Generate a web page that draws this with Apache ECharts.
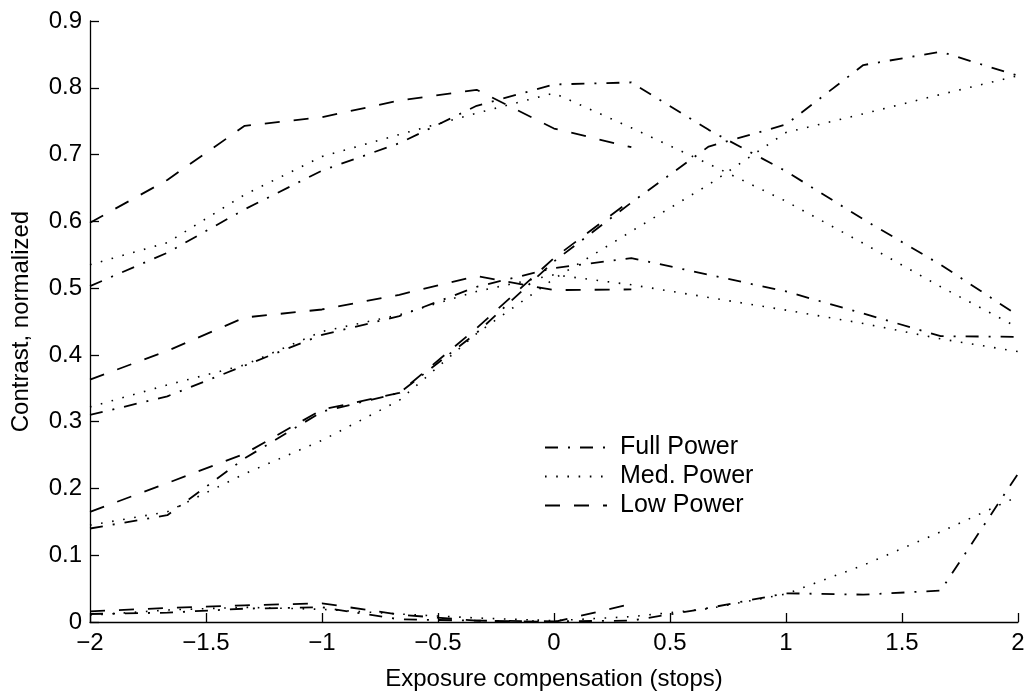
<!DOCTYPE html>
<html>
<head>
<meta charset="utf-8">
<script src="https://cdn.jsdelivr.net/npm/echarts@6/dist/echarts.min.js"></script>
<style>
html, body { margin: 0; padding: 0; background: #fff; }
#chart { width: 1031px; height: 696px; }
</style>
</head>
<body>
<div id="chart"></div>
<script>
// Exposure steps (one-third stop apart)
const exposure = [-2, -1.6667, -1.3333, -1, -0.6667, -0.3333, 0, 0.3333, 0.6667, 1, 1.3333, 1.6667, 2];

// Tick labels
const xTickLabels = ['\u22122', '\u22121.5', '\u22121', '\u22120.5', '0', '0.5', '1', '1.5', '2'];
const yTickLabels = ['0', '0.1', '0.2', '0.3', '0.4', '0.5', '0.6', '0.7', '0.8', '0.9'];

// Scene A
const fullA = [0.503, 0.553, 0.618, 0.676, 0.717, 0.773, 0.805, 0.808, 0.737, 0.675, 0.603, 0.535, 0.459];
const medA  = [0.535, 0.568, 0.640, 0.697, 0.730, 0.762, 0.792, 0.740, 0.686, 0.630, 0.567, 0.502, 0.441];
const lowA  = [0.598, 0.662, 0.743, 0.756, 0.781, 0.797, 0.739, 0.711];

// Scene B
const fullB = [0.310, 0.338, 0.384, 0.430, 0.458, 0.502, 0.530, 0.545, 0.520, 0.495, 0.462, 0.428, 0.427];
const medB  = [0.322, 0.355, 0.385, 0.435, 0.460, 0.495, 0.520, 0.505, 0.486, 0.467, 0.447, 0.424, 0.405];
const lowB  = [0.363, 0.406, 0.456, 0.468, 0.490, 0.518, 0.497, 0.498];

// Scene C
const fullC = [0.140, 0.160, 0.245, 0.315, 0.343, 0.433, 0.540, 0.628, 0.712, 0.745, 0.834, 0.854, 0.818];
const medC  = [0.145, 0.165, 0.222, 0.272, 0.332, 0.432, 0.514, 0.585, 0.655, 0.733, 0.761, 0.790, 0.818];
const lowC  = [0.165, 0.208, 0.252, 0.318, 0.343, 0.440, 0.545, 0.632];

// Scene D
const fullD = [0.012, 0.014, 0.020, 0.022, 0.004, 0.002, 0.001, 0.002, 0.021, 0.043, 0.041, 0.047, 0.222];
const medD  = [0.010, 0.018, 0.022, 0.019, 0.012, 0.006, 0.002, 0.008, 0.020, 0.042, 0.085, 0.135, 0.188];
const lowD  = [0.016, 0.021, 0.025, 0.028, 0.011, 0.002, 0.000, 0.027];

const FONT = '"Liberation Sans", Arial, Helvetica, sans-serif';

const powerStyles = {
  'Full Power': { type: [13, 10, 2, 10], width: 1.8 },
  'Med. Power': { type: [1.6, 9.6], width: 1.6 },
  'Low Power':  { type: [15, 14], width: 1.8 }
};

const groups = [
  ['Full Power', fullA], ['Med. Power', medA], ['Low Power', lowA],
  ['Full Power', fullB], ['Med. Power', medB], ['Low Power', lowB],
  ['Full Power', fullC], ['Med. Power', medC], ['Low Power', lowC],
  ['Full Power', fullD], ['Med. Power', medD], ['Low Power', lowD]
];

const series = groups.map(([name, values]) => ({
  name: name,
  type: 'line',
  data: values.map((v, i) => [exposure[i], v]),
  symbol: 'none',
  showSymbol: false,
  lineStyle: {
    color: '#000',
    width: powerStyles[name].width,
    type: powerStyles[name].type,
    cap: 'butt'
  },
  itemStyle: { color: '#000' },
  animation: false,
  silent: true
}));

const chart = echarts.init(document.getElementById('chart'), null, { renderer: 'canvas' });
chart.setOption({
  backgroundColor: '#fff',
  animation: false,
  grid: { left: 90, right: 13, top: 21, bottom: 72, containLabel: false },
  xAxis: {
    type: 'value',
    min: -2, max: 2, interval: 0.5,
    axisLine: { show: true, onZero: false, lineStyle: { color: '#000', width: 1.3 } },
    axisTick: { show: true, inside: true, length: 9, lineStyle: { color: '#000', width: 1.3 } },
    splitLine: { show: false },
    axisLabel: {
      color: '#000', fontSize: 24, fontFamily: FONT, margin: 9,
      formatter: v => xTickLabels[Math.round((v + 2) / 0.5)]
    },
    name: 'Exposure compensation (stops)',
    nameLocation: 'middle',
    nameGap: 45,
    nameTextStyle: { color: '#000', fontSize: 24, fontFamily: FONT }
  },
  yAxis: {
    type: 'value',
    min: 0, max: 0.9, interval: 0.1,
    axisLine: { show: true, onZero: false, lineStyle: { color: '#000', width: 1.3 } },
    axisTick: { show: true, inside: true, length: 9, lineStyle: { color: '#000', width: 1.3 } },
    splitLine: { show: false },
    axisLabel: {
      color: '#000', fontSize: 24, fontFamily: FONT, margin: 8,
      formatter: v => yTickLabels[Math.round(v / 0.1)]
    },
    name: 'Contrast, normalized',
    nameLocation: 'middle',
    nameGap: 57,
    nameTextStyle: { color: '#000', fontSize: 24, fontFamily: FONT }
  },
  legend: {
    orient: 'vertical',
    left: 539,
    top: 430,
    itemWidth: 62,
    itemHeight: 12,
    itemGap: 4,
    selectedMode: false,
    data: ['Full Power', 'Med. Power', 'Low Power'],
    itemStyle: { opacity: 0 },
    textStyle: { color: '#000', fontSize: 25, fontFamily: FONT, padding: [0, 0, 0, 8] }
  },
  series: series
});
</script>
</body>
</html>
